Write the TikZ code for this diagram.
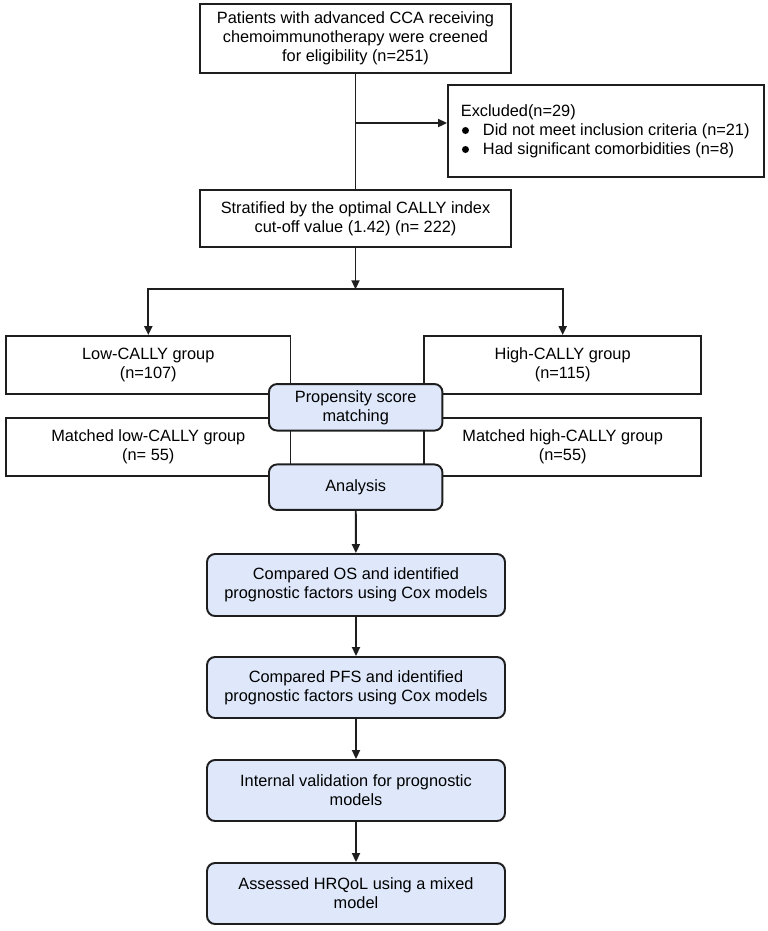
\documentclass[tikz,border=0pt]{standalone}
\usepackage{fontspec}
\setmainfont{Liberation Sans}
\usepackage{tikz}
\usetikzlibrary{arrows.meta, positioning}
\usepackage{xcolor}
\definecolor{psmblue}{RGB}{222,232,250}
\definecolor{traitnoir}{RGB}{30,30,30}

\begin{document}
\begin{tikzpicture}[x=0.02cm, y=-0.02cm,
    font=\fontsize{9.3}{10.8}\selectfont,
    box/.style={draw=traitnoir, line width=1.1pt, fill=white, align=center,
        inner sep=0pt},
    bluebox/.style={box, fill=psmblue, rounded corners=0.16cm},
    arr/.style={-{Triangle[length=0.18cm, width=0.16cm]}, draw=traitnoir,
        line width=1.1pt}]
        \useasboundingbox (0,0) rectangle (768,931);

        % --- Sélection des patients ---
        \node[box, minimum width=6.22cm, minimum height=1.38cm] (screen)
            at (355.5,38.5)
            {Patients with advanced CCA receiving\\
             chemoimmunotherapy were creened\\
             for eligibility (n=251)};
        \node[box, minimum width=6.32cm, minimum height=1.84cm] (excl)
            at (606,131) {};
        \node[align=left, anchor=west, inner sep=0pt] (excltxt)
            at (460.5,131)
            {Excluded(n=29)\\
             \hspace*{12.6pt}Did not meet inclusion criteria (n=21)\\
             \hspace*{12.6pt}Had significant comorbidities (n=8)};
        % Puces
        \foreach \y in {130.5, 149.5}
            \fill[black] (465.5,\y) circle (0.07cm);
        \node[box, minimum width=6.22cm, minimum height=1.14cm] (strat)
            at (355.5,218.5)
            {Stratified by the optimal CALLY index\\
             cut-off value (1.42) (n= 222)};

        % --- Groupes CALLY ---
        \node[box, minimum width=5.69cm, minimum height=1.16cm] (low)
            at (148.3,365) {Low-CALLY group\\(n=107)};
        \node[box, minimum width=5.55cm, minimum height=1.16cm] (high)
            at (562.7,365) {High-CALLY group\\(n=115)};
        \node[box, minimum width=5.69cm, minimum height=1.16cm] (mlow)
            at (148.3,447) {Matched low-CALLY group\\(n= 55)};
        \node[box, minimum width=5.55cm, minimum height=1.16cm] (mhigh)
            at (562.7,447) {Matched high-CALLY group\\(n=55)};

        % Boîtes bleues par-dessus
        \node[bluebox, minimum width=3.47cm, minimum height=0.93cm] (psm)
            at (355.7,407.3) {Propensity score\\matching};
        \node[bluebox, minimum width=3.47cm, minimum height=0.91cm] (ana)
            at (355.7,487.2) {Analysis};

        % --- Analyses ---
        \node[bluebox, minimum width=5.96cm, minimum height=1.24cm] (os)
            at (356,585)
            {Compared OS and identified\\prognostic factors using Cox models};
        \node[bluebox, minimum width=5.96cm, minimum height=1.22cm] (pfs)
            at (356,687.5)
            {Compared PFS and identified\\prognostic factors using Cox models};
        \node[bluebox, minimum width=5.96cm, minimum height=1.22cm] (valid)
            at (356,790.5)
            {Internal validation for prognostic\\models};
        \node[bluebox, minimum width=5.96cm, minimum height=1.22cm] (hrqol)
            at (356,893.5)
            {Assessed HRQoL using a mixed\\model};

        % --- Flèches ---
        \draw[draw=traitnoir, line width=1.1pt] (screen) -- (strat);
        \coordinate (exclpt) at (screen.south |- 0,123);
        \draw[arr] (exclpt) -- (exclpt -| excl.west);
        \coordinate (split) at (strat.south |- 0,289.3);
        \draw[arr] (strat) -- (split);
        \draw[arr] (split) -| (low.north);
        \draw[arr] (split) -| (high.north);
        \draw[arr] (ana) -- (os);
        \draw[arr] (os) -- (pfs);
        \draw[arr] (pfs) -- (valid);
        \draw[arr] (valid) -- (hrqol);
    \end{tikzpicture}
\end{document}
